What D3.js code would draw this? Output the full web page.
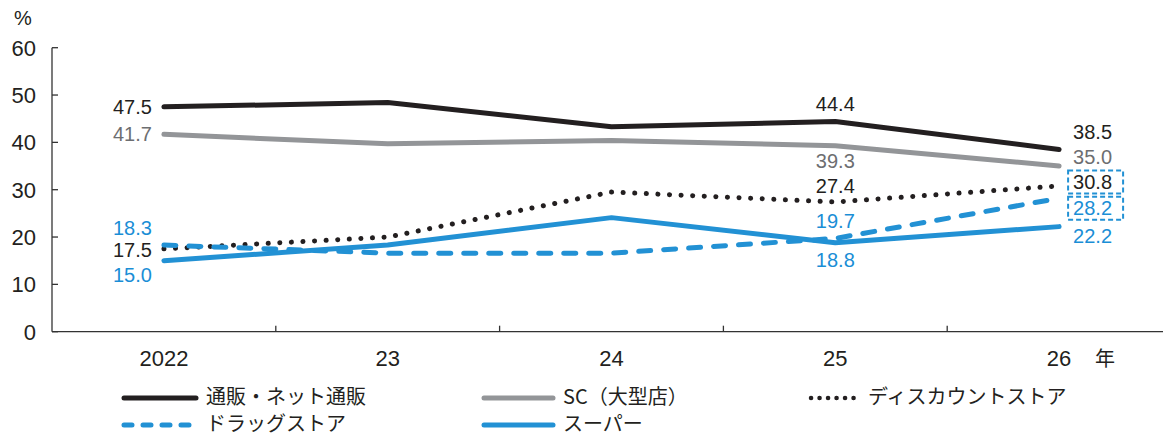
<!DOCTYPE html>
<html>
<head>
<meta charset="utf-8">
<script src="https://cdn.jsdelivr.net/npm/d3@7"></script>
<style>
  body { margin: 0; background: #fff; }
  svg text { font-family: "Liberation Sans", Arial, sans-serif; }
  .jp { font-family: "Noto Sans CJK JP", sans-serif; }
</style>
</head>
<body>
<svg id="chart" width="1163" height="437"></svg>
<script>
// DATA
const years = ["2022", "23", "24", "25", "26"];
const tsuhan = [47.5, 48.4, 43.3, 44.4, 38.5];
const sc = [41.7, 39.7, 40.4, 39.3, 35.0];
const discount = [17.5, 20.0, 29.5, 27.4, 30.8];
const drug = [18.3, 16.6, 16.6, 19.7, 28.2];
const supermarket = [15.0, 18.3, 24.1, 18.8, 22.2];
const yTicks = [0, 10, 20, 30, 40, 50, 60];

const black = "#231f20", gray = "#939598", grayText = "#6d6e71", blue = "#2291d4", blueText = "#1a8ed6";

const series = [
    { name: "通販・ネット通販", values: tsuhan, color: black, text: black, dash: null },
    { name: "SC（大型店）", values: sc, color: gray, text: grayText, dash: null },
    { name: "ディスカウントストア", values: discount, color: black, text: black, dash: "0.1 11.5" },
    { name: "ドラッグストア", values: drug, color: blue, text: blueText, dash: "12 13" },
    { name: "スーパー", values: supermarket, color: blue, text: blueText, dash: null }
];

const svg = d3.select("#chart");

const x = d3.scalePoint().domain(years).range([52, 1171]).padding(0.5);
const xBand = d3.scaleBand().domain(years).range([52, 1171]);
const y = d3.scaleLinear().domain([0, 60]).range([331.7, 47.7]);

// axes
svg.append("line").attr("x1", 52).attr("x2", 52).attr("y1", y(60)).attr("y2", y(0))
    .attr("stroke", "#333").attr("stroke-width", 1.3);
svg.append("line").attr("x1", 52).attr("x2", 1163).attr("y1", y(0)).attr("y2", y(0))
    .attr("stroke", "#333").attr("stroke-width", 1.3);

svg.selectAll(".ytick").data(yTicks).join("line")
    .attr("x1", 52).attr("x2", 58)
    .attr("y1", d => y(d)).attr("y2", d => y(d))
    .attr("stroke", "#333").attr("stroke-width", 1.3);

svg.selectAll(".ylab").data(yTicks).join("text")
    .attr("x", 36).attr("y", d => y(d) + 8)
    .attr("text-anchor", "end")
    .attr("font-size", 22).attr("fill", black)
    .text(d => d);

svg.append("text").attr("x", 23).attr("y", 25).attr("text-anchor", "middle")
    .attr("font-size", 20).attr("fill", black).text("%");

svg.selectAll(".xtick").data(years.slice(1)).join("line")
    .attr("x1", d => xBand(d)).attr("x2", d => xBand(d))
    .attr("y1", y(0)).attr("y2", y(0) - 6)
    .attr("stroke", "#333").attr("stroke-width", 1.3);

svg.selectAll(".xlab").data(years).join("text")
    .attr("x", d => x(d)).attr("y", 366)
    .attr("text-anchor", "middle")
    .attr("font-size", 22).attr("fill", black)
    .text(d => d);

svg.append("text").attr("class", "jp").attr("x", 1105).attr("y", 366)
    .attr("text-anchor", "middle").attr("font-size", 20).attr("fill", black).text("年");

// lines
const line = d3.line().x((d, i) => x(years[i])).y(d => y(d));

svg.selectAll(".series").data(series).join("path")
    .attr("d", d => line(d.values))
    .attr("fill", "none")
    .attr("stroke", d => d.color)
    .attr("stroke-width", 5)
    .attr("stroke-linecap", "round")
    .attr("stroke-linejoin", "round")
    .attr("stroke-dasharray", d => d.dash);

// value labels: [series index, year index, anchor, dx, dy of text centre]
const labelSpots = [
    [0, 0, "end", -12, 0], [1, 0, "end", -12, 0], [3, 0, "end", -12, -17], [2, 0, "end", -12, 1], [4, 0, "end", -12, 14],
    [0, 3, "middle", 0, -17.5], [1, 3, "middle", 0, 15], [2, 3, "middle", 0, -16], [3, 3, "middle", 0, -17.5], [4, 3, "middle", 0, 17],
    [0, 4, "start", 14, -17.5], [1, 4, "start", 14, -9], [2, 4, "start", 14, -4], [3, 4, "start", 14, 10], [4, 4, "start", 14, 9]
];

labelSpots.forEach(([si, yi, anchor, dx, dy]) => {
    const s = series[si];
    svg.append("text")
        .attr("x", x(years[yi]) + dx)
        .attr("y", y(s.values[yi]) + dy + 7)
        .attr("text-anchor", anchor)
        .attr("font-size", 20)
        .attr("fill", s.text)
        .text(s.values[yi].toFixed(1));
});

// dashed boxes around 26 discount and drug labels
[[2, -4], [3, 10]].forEach(([si, dy]) => {
    const cy = y(series[si].values[4]) + dy;
    svg.append("rect")
        .attr("x", x("26") + 9).attr("y", cy - 11.5)
        .attr("width", 55).attr("height", 23)
        .attr("fill", "none")
        .attr("stroke", blue).attr("stroke-width", 2)
        .attr("stroke-dasharray", "5 3");
});

// legend
const legendPos = [
    { x1: 124, x2: 196, y: 398 }, { x1: 484, x2: 553, y: 398 }, { x1: 811, x2: 861, y: 398 },
    { x1: 124, x2: 196, y: 425 }, { x1: 484, x2: 553, y: 425 }
];

series.forEach((s, i) => {
    const p = legendPos[i];
    svg.append("line")
        .attr("x1", p.x1).attr("x2", p.x2).attr("y1", p.y).attr("y2", p.y)
        .attr("stroke", s.color)
        .attr("stroke-width", i === 2 ? 4.5 : 5)
        .attr("stroke-linecap", "round")
        .attr("stroke-dasharray", i === 2 ? "0.1 8.4" : (i === 3 ? "8 11" : null));
    svg.append("text")
        .attr("class", "jp")
        .attr("x", p.x2 + (i === 2 ? 7 : 10)).attr("y", p.y + 6)
        .attr("font-size", 20).attr("fill", black)
        .text(s.name);
});
</script>
</body>
</html>
